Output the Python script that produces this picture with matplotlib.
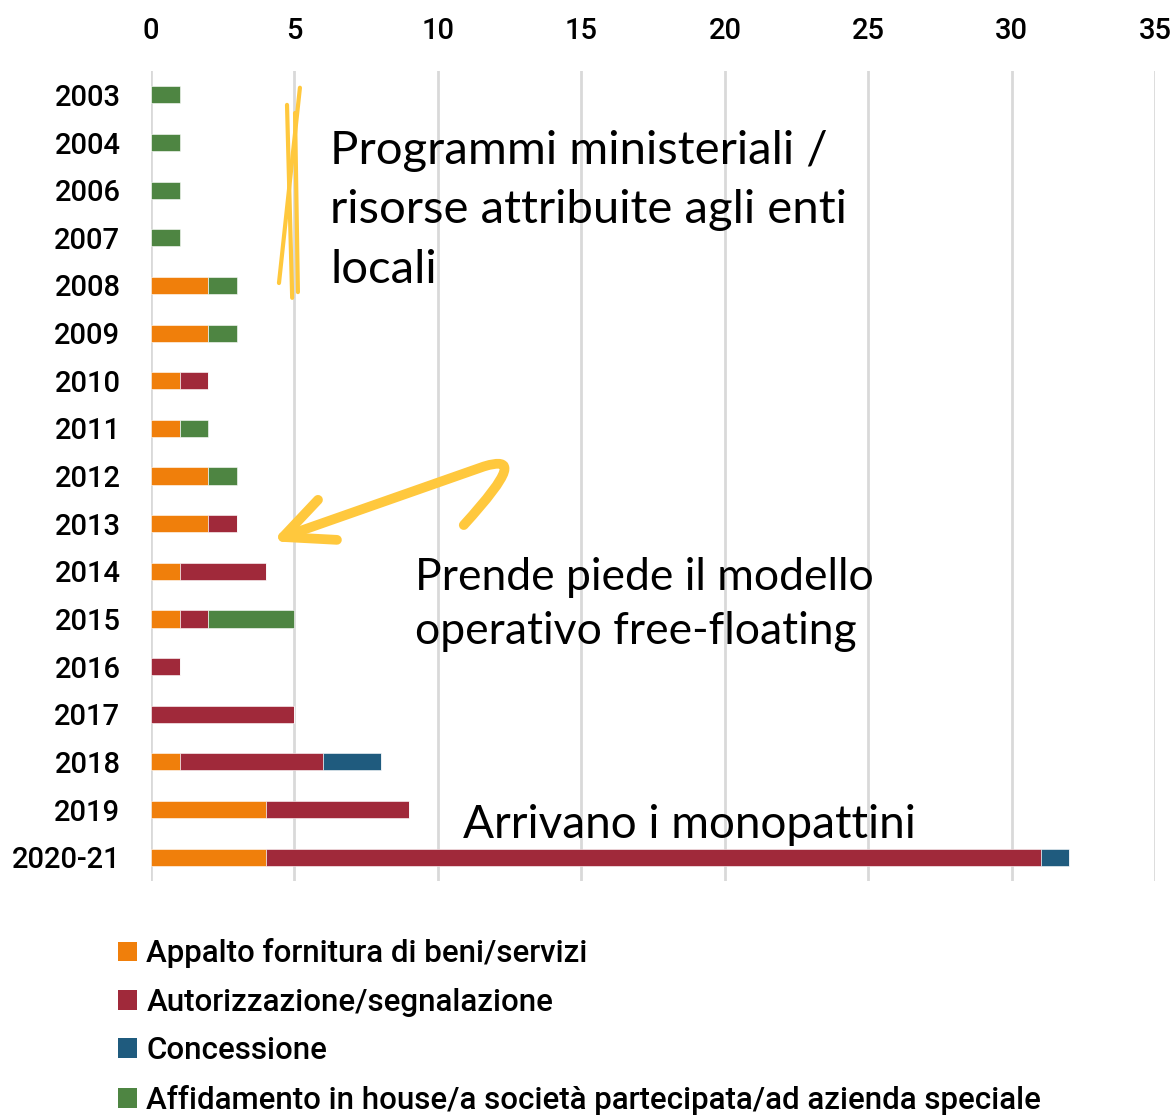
import numpy as np
import matplotlib.pyplot as plt
from matplotlib.path import Path
from matplotlib.patches import PathPatch, Patch

# data
years = ['2003', '2004', '2006', '2007', '2008', '2009', '2010', '2011', '2012',
         '2013', '2014', '2015', '2016', '2017', '2018', '2019', '2020-21']
appalto = [0, 0, 0, 0, 2, 2, 1, 1, 2, 2, 1, 1, 0, 0, 1, 4, 4]
autorizzazione = [0, 0, 0, 0, 0, 0, 1, 0, 0, 1, 3, 1, 1, 5, 5, 5, 27]
concessione = [0, 0, 0, 0, 0, 0, 0, 0, 0, 0, 0, 0, 0, 0, 2, 0, 1]
affidamento = [1, 1, 1, 1, 1, 1, 0, 1, 1, 0, 0, 3, 0, 0, 0, 0, 0]

series = [
    ('Appalto fornitura di beni/servizi', appalto, '#F07F0B'),
    ('Autorizzazione/segnalazione', autorizzazione, '#A0293A'),
    ('Concessione', concessione, '#1F5B7E'),
    ('Affidamento in house/a società partecipata/ad azienda speciale', affidamento, '#4E8542'),
]

tick_font = 'Roboto'
hand_font = 'Lato'
yellow = '#FFC83D'

fig = plt.figure(figsize=(11.76, 11.17), dpi=100)
ax = fig.add_axes([0.1284, 0.2113, 0.854, 0.7251])

y = np.arange(len(years))
left = np.zeros(len(years))
for name, vals, col in series:
    vals = np.array(vals, dtype=float)
    ax.barh(y, vals, left=left, height=0.36, color=col, edgecolor='white',
            linewidth=0.4, zorder=3)
    left += vals

ax.set_xlim(0, 35)
ax.set_ylim(16.5, -0.5)
ax.set_xticks(np.arange(0, 36, 5))
ax.set_yticks(y)
ax.set_yticklabels(years)
ax.xaxis.tick_top()
ax.tick_params(axis='both', length=0, labelsize=21)
ax.tick_params(axis='x', pad=19)
ax.tick_params(axis='y', pad=22)
for lab in ax.get_xticklabels() + ax.get_yticklabels():
    lab.set_fontfamily(tick_font)
    lab.set_fontweight('medium')
ax.grid(axis='x', color='#D9D9D9', linewidth=2, zorder=0)
ax.grid(axis='y', visible=False)
for s in ax.spines.values():
    s.set_visible(False)

# yellow strokes
ax.plot([4.74, 4.92], [0.21, 4.26], color=yellow, lw=3, solid_capstyle='round', zorder=4)
ax.plot([5.19, 4.46], [-0.15, 3.95], color=yellow, lw=3, solid_capstyle='round', zorder=4)
ax.plot([5.02, 5.12], [0.38, 4.14], color=yellow, lw=3, solid_capstyle='round', zorder=4)

# curved arrow
verts = [(10.9, 9.03), (12.6, 7.9), (12.7, 7.6), (11.6, 7.8), (4.6, 9.28)]
codes = [Path.MOVETO, Path.CURVE4, Path.CURVE4, Path.CURVE4, Path.LINETO]
ax.add_patch(PathPatch(Path(verts, codes), facecolor='none', edgecolor=yellow,
                       lw=7, capstyle='round', joinstyle='round', zorder=4))
ax.plot([5.82, 4.6, 6.48], [8.5, 9.28, 9.34], color=yellow, lw=7,
        solid_capstyle='round', solid_joinstyle='round', zorder=4)

# annotations
ax.text(6.24, 0.73, 'Programmi ministeriali /\nrisorse attribuite agli enti\nlocali',
        fontsize=34, fontfamily=hand_font, color='black', va='top', ha='left',
        linespacing=1.52, zorder=5)
ax.text(9.2, 9.7, 'Prende piede il modello\noperativo free-floating',
        fontsize=32, fontfamily=hand_font, color='black', va='top', ha='left',
        linespacing=1.4, zorder=5)
ax.text(10.88, 15.33, 'Arrivano i monopattini',
        fontsize=33, fontfamily=hand_font, color='black', va='center', ha='left',
        zorder=5)

# legend
handles = [Patch(facecolor=col, label=name) for name, vals, col in series]
leg = fig.legend(handles=handles, loc='upper left', bbox_to_anchor=(0.09, 0.171),
                 frameon=False, fontsize=22.5, handlelength=0.6, handleheight=0.6,
                 handletextpad=0.3, labelspacing=0.62, borderaxespad=0)
for t in leg.get_texts():
    t.set_fontfamily(tick_font)
    t.set_fontweight('medium')

plt.savefig('out.png', dpi=100)
